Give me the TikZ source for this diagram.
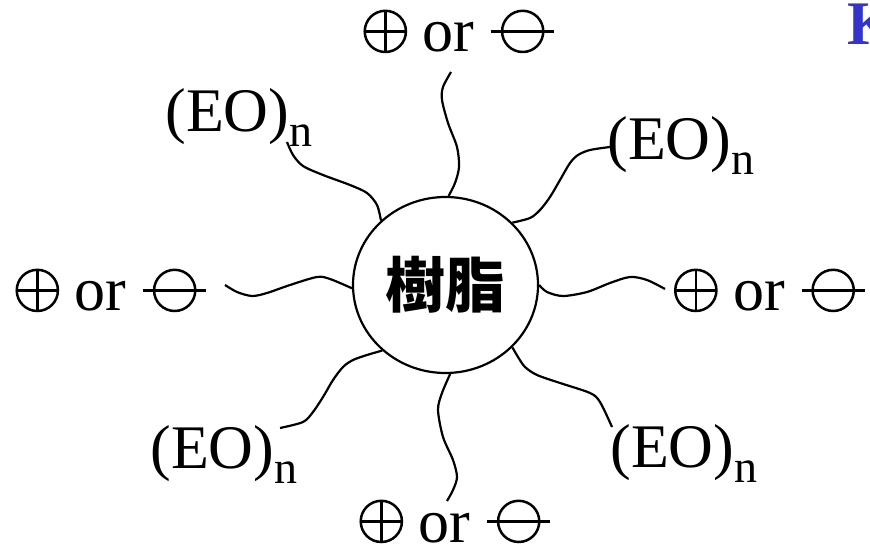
\documentclass[tikz,border=0pt]{standalone}
\usepackage{fontspec}
\setmainfont{Liberation Serif}
\newfontfamily\cjk{Noto Sans CJK TC}
\usetikzlibrary{shapes.geometric}
\definecolor{TitleBlue}{HTML}{3434C8}
\newcommand{\pluscirc}{\tikz[baseline=0pt,line width=1.25pt]{\draw (0,10.3pt) circle (10.3pt); \draw (-10.3pt,10.3pt)--(10.3pt,10.3pt) (0,0)--(0,20.6pt);}}
\newcommand{\minuscirc}{\tikz[baseline=0pt,line width=1.25pt]{\draw (0,10.3pt) circle (10.3pt); \draw (-15.8pt,10.3pt)--(15.8pt,10.3pt);}}
\newcommand{\charge}{\pluscirc{} or \minuscirc}
\newcommand{\eon}{(EO)\raisebox{-7.5pt}{\fontsize{23}{27}\selectfont n}}

\begin{document}
\begin{tikzpicture}[x=0.5pt,y=-0.5pt,
    lbl/.style={inner sep=0pt,font=\fontsize{31}{37}\selectfont},
    chain/.style={line width=1.1pt,line join=round}]
  \useasboundingbox (0,0) rectangle (870,549);
  \node[draw,ellipse,line width=1.1pt,minimum width=92.5pt,minimum height=88pt,inner sep=0pt,
    font=\cjk\bfseries\fontsize{30}{36}\selectfont] (res) at (445.5,285) {樹脂};
  % charged ends
  \node[lbl,anchor=base] (qT) at (459.5,52) {\charge};
  \node[lbl,anchor=base] (qL) at (111.5,311) {\charge};
  \node[lbl,anchor=base] (qR) at (770,311) {\charge};
  \node[lbl,anchor=base] (qB) at (455.5,542) {\charge};
  % EO ends
  \node[lbl,anchor=base west] (eoTL) at (165,132) {\eon};
  \node[lbl,anchor=base west] (eoTR) at (607,160) {\eon};
  \node[lbl,anchor=base west] (eoBL) at (150,468) {\eon};
  \node[lbl,anchor=base west] (eoBR) at (610,467) {\eon};
  \node[lbl,anchor=base west,text=TitleBlue,font=\bfseries\fontsize{31}{37}\selectfont] (ttl) at (847,45) {K};
  % chains
  \coordinate (cT) at (451,72);
  \coordinate (cL) at (225,285);
  \coordinate (cR) at (665,289);
  \coordinate (cB) at (447,501);
  \coordinate (cTL) at (287,142);
  \coordinate (cTR) at (610,147);
  \coordinate (cBL) at (280,428);
  \coordinate (cBR) at (612,427);
  \draw[chain] plot[smooth] coordinates {(res.88) (455,183) (459,167) (457,147) (448,123) (442,100) (443,87) (cT)};
  \draw[chain] plot[smooth] coordinates {(res.135) (377,205) (367,193) (350,185) (323,175) (303,166) (293,155) (cTL)};
  \draw[chain] plot[smooth] coordinates {(res.43) (530,218) (540,210) (550,197) (560,180) (570,163) (578,155) (590,150) (cTR)};
  \draw[chain] plot[smooth] coordinates {(res.182) (330,279) (317,277) (290,285) (267,293) (252,296) (237,292) (cL)};
  \draw[chain] plot[smooth] coordinates {(res.0) (547,292) (563,296) (587,292) (610,283) (630,277) (647,280) (cR)};
  \draw[chain] plot[smooth] coordinates {(res.226) (367,355) (353,360) (343,367) (333,380) (323,397) (313,412) (303,422) (cBL)};
  \draw[chain] plot[smooth] coordinates {(res.317) (518,357) (525,367) (537,375) (560,383) (590,393) (600,402) (cBR)};
  \draw[chain] plot[smooth] coordinates {(res.273) (442,393) (438,410) (443,437) (453,460) (457,477) (453,490) (cB)};
\end{tikzpicture}
\end{document}
